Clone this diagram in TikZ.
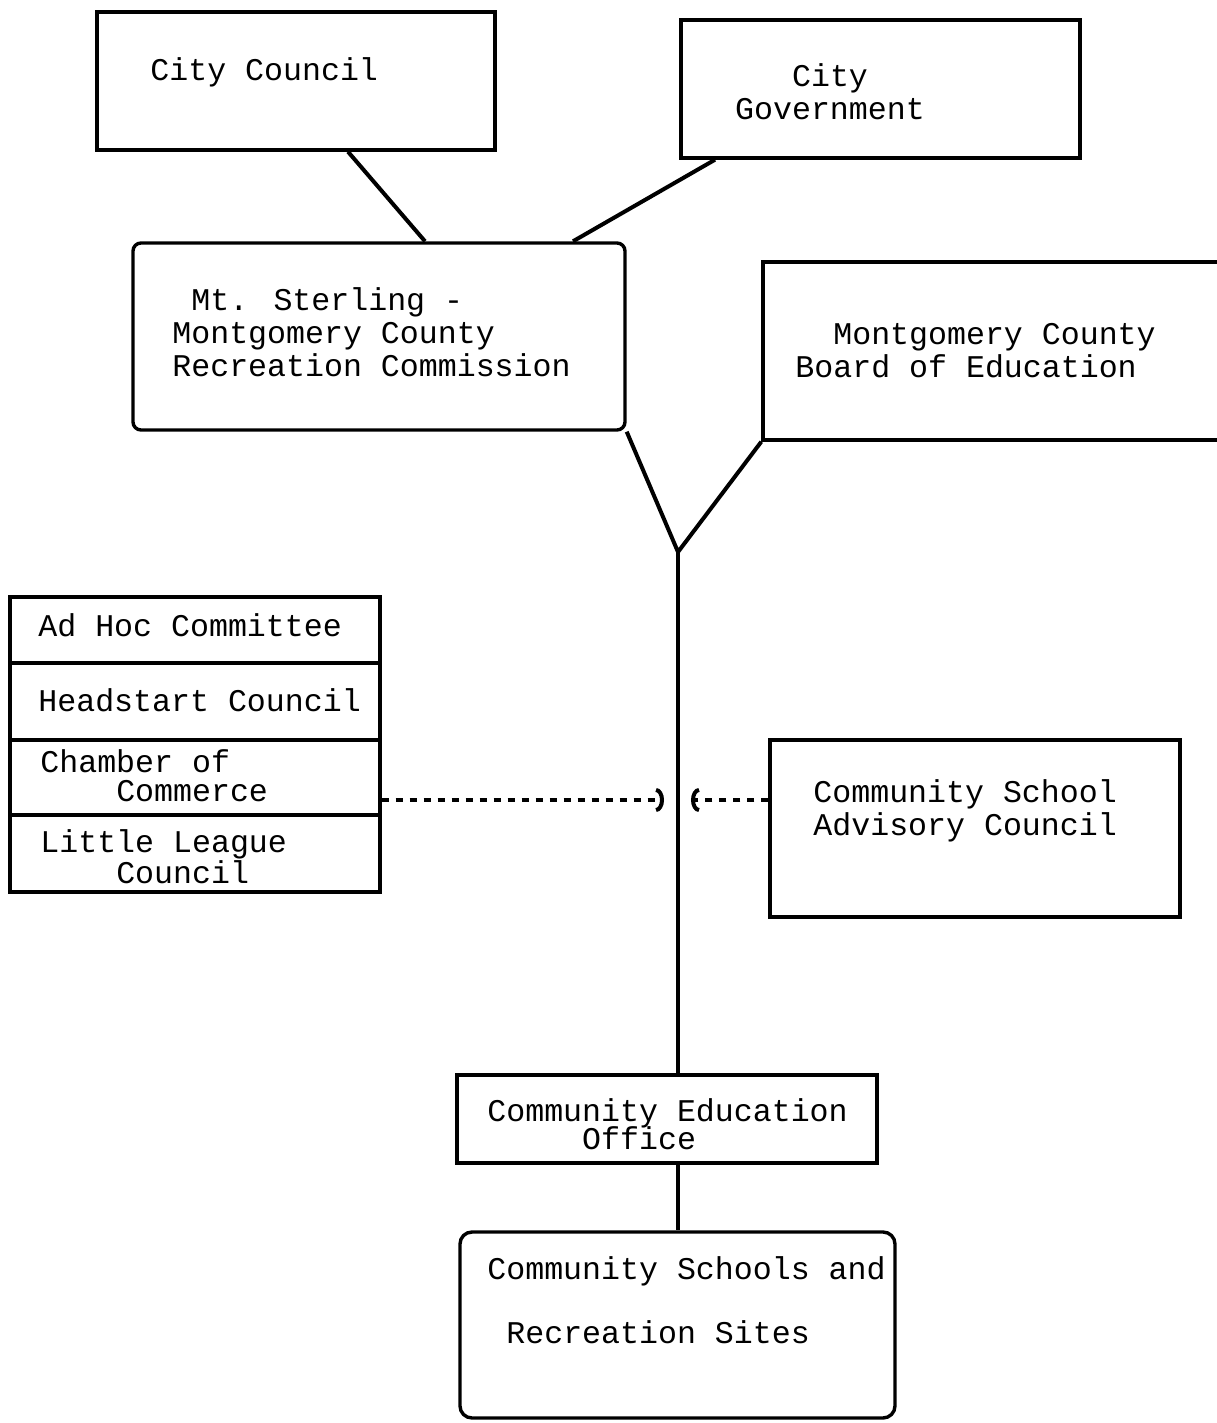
\documentclass[tikz,border=0pt]{standalone}
\usepackage{fontspec}
\newfontfamily\typewriter{Liberation Mono}
\usetikzlibrary{arrows.meta}

\begin{document}
\begin{tikzpicture}[x=0.5pt, y=-0.5pt]
	\tikzset{box/.style = {draw, line width=1.7pt, inner sep=0pt}}
	\tikzset{txt/.style = {font=\typewriter\fontsize{15.8}{16.5}\selectfont, align=left, inner sep=0pt, anchor=west}}
	\tikzset{link/.style = {line width=2pt}}
	\tikzset{hint/.style = {line width=2pt, dash pattern=on 3.5pt off 3.5pt, -{Arc Barb[length=4pt, width=12pt]}}}
	\useasboundingbox (0,0) rectangle (1216,1423);
	% top level
	\node[box, minimum width=199pt, minimum height=69pt] (council) at (296,81) {};
	\node[txt] (councillbl) at (150,72) {City Council};
	\node[box, minimum width=199.5pt, minimum height=69pt] (government) at (880.5,89) {};
	\node[txt, align=center, anchor=center] (governmentlbl) at (830,92) {City\\Government};
	% commission and board
	\node[box, rounded corners=4pt, minimum width=246pt, minimum height=93.5pt] (rec) at (379,336.5) {};
	\node[txt] (reclbl) at (172,332) {\phantom{M}Mt. Sterling -\\Montgomery County\\Recreation Commission};
	\node[box, minimum width=233.5pt, minimum height=89pt] (board) at (996.5,351) {};
	\node[txt] (boardlbl) at (795,351) {\phantom{MM}Montgomery County\\Board of Education};
	% advisory groups
	\node[box, minimum width=185pt, minimum height=33pt] (adhoc) at (195,630) {};
	\node[txt] (adhoclbl) at (38,625) {Ad Hoc Committee};
	\node[box, minimum width=185pt, minimum height=38.5pt] (headstart) at (195,701.5) {};
	\node[txt] (headstartlbl) at (38,700) {Headstart Council};
	\node[box, minimum width=185pt, minimum height=37.5pt] (chamber) at (195,777.5) {};
	\node[txt] (chamberlbl) at (40,776) {Chamber of\\[-2pt]\phantom{MMMM}Commerce};
	\node[box, minimum width=185pt, minimum height=38.5pt] (league) at (195,853.5) {};
	\node[txt] (leaguelbl) at (40,857) {Little League\\[-1pt]\phantom{MMMM}Council};
	\node[box, minimum width=205pt, minimum height=88.5pt] (advisory) at (975,828.5) {};
	\node[txt] (advisorylbl) at (813,811) {Community School\\Advisory Council};
	% office and sites
	\node[box, minimum width=210pt, minimum height=44pt] (office) at (667,1119) {};
	\node[txt] (officelbl) at (487,1124) {Community Education\\[-2.5pt]\phantom{MMMMM}Office};
	\node[box, rounded corners=6pt, minimum width=217.5pt, minimum height=93pt] (schools) at (677.5,1325) {};
	\node[txt] (schoolslbl) at (487,1300) {Community Schools and\\[15.5pt]\phantom{M}Recreation Sites};
	% connectors
	\coordinate (fork) at (678,552);
	\coordinate (lefttip) at (664,800);
	\coordinate (righttip) at (691,800);
	\draw[link] ([xshift=26pt]council.south) -- ([xshift=23pt]rec.north);
	\draw[link] ([xshift=-82.75pt]government.south) -- ([xshift=97pt]rec.north);
	\draw[link] (rec.south east) -- (fork) -- (board.south west);
	\draw[link] (fork) -- (fork |- office.north);
	\draw[link] (fork |- office.south) -- (fork |- schools.north);
	\draw[hint] (chamber.east |- lefttip) -- (lefttip);
	\draw[hint] (advisory.west |- righttip) -- (righttip);
\end{tikzpicture}
\end{document}
